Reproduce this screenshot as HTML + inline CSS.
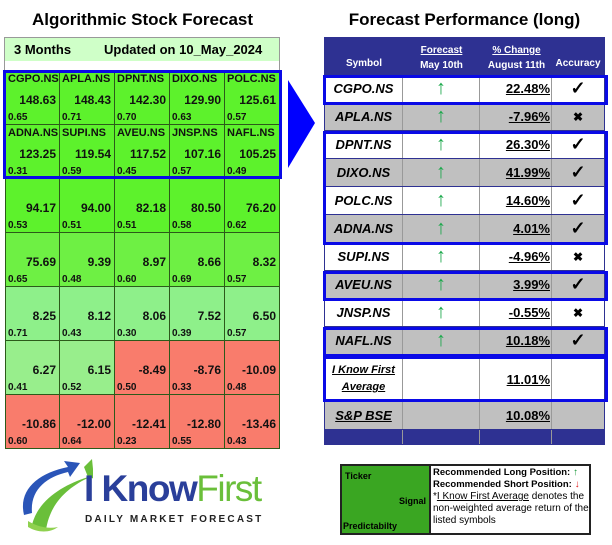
<!DOCTYPE html>
<html><head><meta charset="utf-8"><style>
body{margin:0;width:612px;height:545px;background:#fff;font-family:"Liberation Sans",sans-serif;position:relative;overflow:hidden}
.a{position:absolute}
.t{font-weight:bold;font-size:17px;text-align:center}
.cell{position:absolute;box-sizing:border-box;border-right:1px solid #2c5a1a;border-bottom:1px solid #2c5a1a;font-weight:bold;font-size:11px;color:#111}
.cell .s{position:absolute;left:2px;top:2px}
.cell .v{position:absolute;right:3px;top:22px;font-size:12px}
.cell .p{position:absolute;left:2px;bottom:1px;font-size:10px}
.row{position:absolute;left:325px;width:279px;font-weight:bold}
.row div{position:absolute;top:0;height:100%;box-sizing:border-box;border-right:1px solid #999;display:flex;align-items:center}
.box{position:absolute;border:3px solid #0a0ae6;box-sizing:border-box}
</style></head><body>
<div class="a t" style="left:0;top:10px;width:285px">Algorithmic Stock Forecast</div>
<div class="a t" style="left:322px;top:10px;width:285px">Forecast Performance (long)</div>

<div class="a" style="left:4px;top:37px;width:276px;height:33px;border:1px solid #999;border-bottom:none;box-sizing:border-box;background:linear-gradient(#cfffc8 0 23px,#fff 23px)"></div>
<div class="a" style="left:14px;top:42px;font-weight:bold;font-size:13px">3 Months</div>
<div class="a" style="left:104px;top:42px;font-weight:bold;font-size:13px">Updated on 10_May_2024</div>
<div id="grid" class="a" style="left:0;top:0"></div>
<div class="box" style="left:3px;top:70px;width:279px;height:109px"></div>

<svg class="a" style="left:285px;top:78px" width="35" height="94"><polygon points="3,2 30,45 3,90" fill="#0000ff"/></svg>

<div class="a" style="left:324px;top:37px;width:281px;height:408px;background:#2e3192"></div>
<div class="a" style="left:325px;top:58px;width:78px;text-align:center;color:#fff;font-weight:bold;font-size:10px">Symbol</div>
<div class="a" style="left:403px;top:43px;width:77px;text-align:center;color:#fff;font-weight:bold;font-size:10px;line-height:15px"><u>Forecast</u><br>May 10th</div>
<div class="a" style="left:478px;top:43px;width:77px;text-align:center;color:#fff;font-weight:bold;font-size:10px;line-height:15px"><u>% Change</u><br>August 11th</div>
<div class="a" style="left:552px;top:58px;width:52px;text-align:center;color:#fff;font-weight:bold;font-size:10px">Accuracy</div>
<div id="rt" class="a" style="left:0;top:0"></div>

<div class="box" style="left:323px;top:75px;width:285px;height:30px"></div>
<div class="box" style="left:323px;top:131px;width:285px;height:114px"></div>
<div class="box" style="left:323px;top:271px;width:285px;height:30px"></div>
<div class="box" style="left:323px;top:327px;width:285px;height:30px"></div>
<div class="box" style="left:323px;top:356px;width:285px;height:46px"></div>

<div class="a" style="left:340px;top:464px;width:251px;height:71px;border:2px solid #222;box-sizing:border-box;background:#fff"></div>
<div class="a" style="left:342px;top:466px;width:87px;height:67px;background:#3aa622;border-right:2px solid #222;font-weight:bold;font-size:9px">
<span class="a" style="left:3px;top:5px">Ticker</span><span class="a" style="right:3px;top:30px">Signal</span><span class="a" style="left:1px;top:55px">Predictabilty</span></div>
<div class="a" style="left:433px;top:467px;width:156px;font-size:10px;line-height:12px">
<b style="font-size:9.5px">Recommended Long Position:</b> <span style="color:#1a9a3a;font-weight:bold">↑</span><br><b style="font-size:9.5px">Recommended Short Position:</b> <span style="color:#e02020;font-weight:bold">↓</span><br>*<u>I Know First Average</u> denotes the non-weighted average return of the listed symbols</div>

<svg class="a" style="left:18px;top:455px" width="75" height="80">
<path d="M6,60 C0,35 20,18 50,12 L46,6 L62,8 L52,22 L50,17 C28,22 12,35 14,58 Z" fill="#2a55b8"/>
<path d="M14,70 C20,45 45,30 70,22 L66,12 L74,4 L76,24 L72,22 C50,32 32,48 28,75 Z" fill="#6abf3a"/>
<path d="M10,72 C20,78 32,78 40,72 C30,74 20,72 10,66 Z" fill="#8fd14f"/>
</svg>
<div class="a" style="left:84px;top:469px;font-size:37px;line-height:40px;letter-spacing:-1.5px"><span style="color:#2a3f9a;font-weight:bold">I Know</span><span style="color:#6abf3a">First</span></div>
<div class="a" style="left:85px;top:514px;font-size:10px;font-weight:bold;letter-spacing:2.2px;color:#222">DAILY MARKET FORECAST</div>

<script>
const tickers=["CGPO.NS","APLA.NS","DPNT.NS","DIXO.NS","POLC.NS","ADNA.NS","SUPI.NS","AVEU.NS","JNSP.NS","NAFL.NS"];
const signals=[148.63,148.43,142.30,129.90,125.61,123.25,119.54,117.52,107.16,105.25,94.17,94.00,82.18,80.50,76.20,75.69,9.39,8.97,8.66,8.32,8.25,8.12,8.06,7.52,6.50,6.27,6.15,-8.49,-8.76,-10.09,-10.86,-12.00,-12.41,-12.80,-13.46];
const preds=[0.65,0.71,0.70,0.63,0.57,0.31,0.59,0.45,0.57,0.49,0.53,0.51,0.51,0.58,0.62,0.65,0.48,0.60,0.69,0.57,0.71,0.43,0.30,0.39,0.57,0.41,0.52,0.50,0.33,0.48,0.60,0.64,0.23,0.55,0.43];
const rowColors=["#5df22c","#5df22c","#5df22c","#6ef044","#8ef08a","#98ee8c","#f97c6c"];
const g=document.getElementById('grid');
signals.forEach((v,i)=>{
 const r=Math.floor(i/5),c=i%5;
 const d=document.createElement('div');
 d.className='cell';
 
 
 d.style.left=(5+c*55)+'px';d.style.top=(71+r*54)+'px';d.style.width='55px';d.style.height='54px';
 d.style.background=v<0?'#f97c6c':rowColors[r];
 if(c==0)d.style.borderLeft='1px solid #2c5a1a';
 d.innerHTML=(i<10?'<span class="s">'+tickers[i]+'</span>':'')+'<span class="v">'+v.toFixed(2)+'</span><span class="p">'+preds[i].toFixed(2)+'</span>';
 g.appendChild(d);
});
const changes=[22.48,-7.96,26.30,41.99,14.60,4.01,-4.96,3.99,-0.55,10.18];
const avgChange=11.01, bseChange=10.08;
const rt=document.getElementById('rt');
function addRow(top,h,bg,sym,arrow,chg,acc,symStyle){
 const r=document.createElement('div');
 r.className='row';
 
 
 r.style.top=top+'px';r.style.height=h+'px';r.style.background=bg;
 r.innerHTML='<div style="left:0;width:78px;justify-content:center;font-style:italic;font-size:13px;'+symStyle+'">'+sym+'</div>'+
 '<div style="left:78px;width:77px;justify-content:center;color:#1aa84a;font-size:20px;font-weight:normal">'+arrow+'</div>'+
 '<div style="left:155px;width:72px;justify-content:flex-end;padding-right:1px;font-size:13px;text-decoration:underline">'+chg+'</div>'+
 '<div style="left:227px;width:52px;justify-content:center;font-size:18px;border-right:none">'+acc+'</div>';
 rt.appendChild(r);
}
changes.forEach((c,i)=>{
 addRow(75+i*28,27,i%2?'#c0c0c0':'#fff',tickers[i],'↑',c.toFixed(2)+'%',c>0?'✓':'<span style="font-size:12px">✖</span>','');
});
addRow(357,44,'#fff','<span style="font-size:11px;text-decoration:underline;line-height:17px;text-align:center">I Know First<br>Average</span>','',avgChange.toFixed(2)+'%','','');
addRow(402,27,'#c0c0c0','<u>S&amp;P BSE</u>','',bseChange.toFixed(2)+'%','','');
addRow(430,14,'#2e3192','','','','','');
</script>
</body></html>
